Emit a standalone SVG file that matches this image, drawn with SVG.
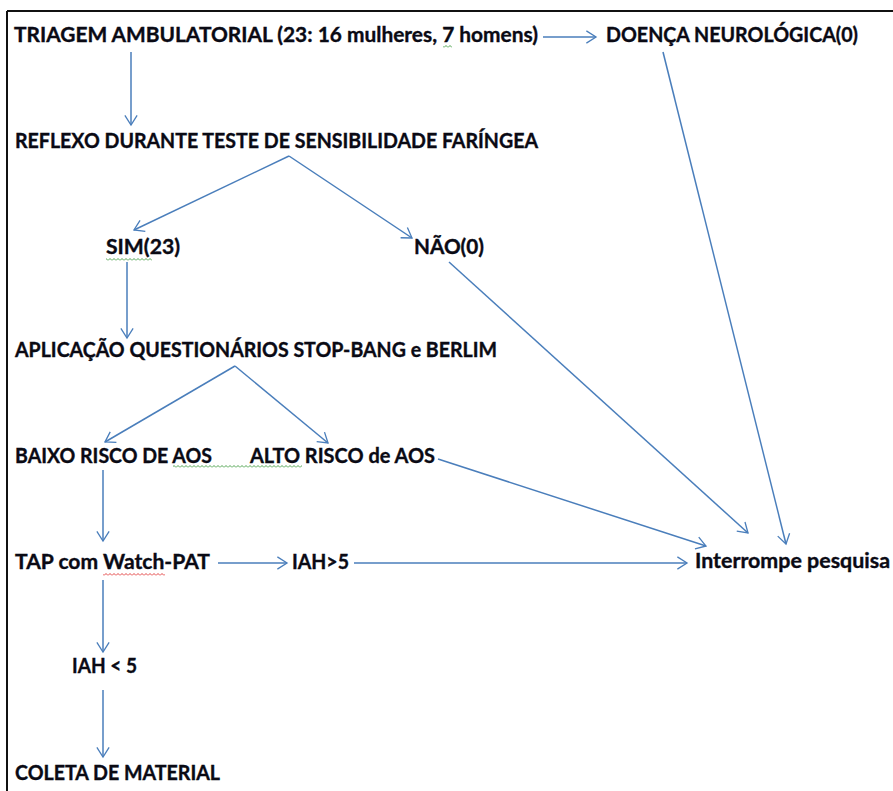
<svg xmlns="http://www.w3.org/2000/svg" width="893" height="791" viewBox="0 0 893 791">
<defs>
<style>
.t{font-family:Lato,"Liberation Sans",sans-serif;font-weight:bold;font-size:20px;fill:#0a0a14;stroke:#0a0a14;stroke-width:0.35}
.c{stroke:#4a7ebb;stroke-width:1.5;fill:none}
</style>
<marker id="ah" markerUnits="userSpaceOnUse" orient="auto" refX="0" refY="0" markerWidth="14" markerHeight="14" viewBox="-12 -8 14 16" overflow="visible">
<path d="M-11,-7 L0,0 L-11,7" fill="none" stroke="#4a7ebb" stroke-width="1.5"/>
</marker>
<pattern id="wg" patternUnits="userSpaceOnUse" x="0" y="0" width="4" height="3">
<path d="M0,2.5 L2,0.5 L4,2.5" fill="none" stroke="#3c9a3c" stroke-width="0.9"/>
</pattern>
<pattern id="wr" patternUnits="userSpaceOnUse" x="0" y="0" width="4" height="3">
<path d="M0,2.5 L2,0.5 L4,2.5" fill="none" stroke="#e03030" stroke-width="0.9"/>
</pattern>
</defs>
<rect width="893" height="791" fill="#fff"/>
<path d="M7,11 H893 M7,11 V791" stroke="#111" stroke-width="2" fill="none"/>
<g id="connectors">
<line class="c" x1="543" y1="37" x2="596" y2="37" marker-end="url(#ah)"/>
<line class="c" x1="131" y1="52" x2="131" y2="125" marker-end="url(#ah)"/>
<line class="c" x1="289" y1="156" x2="134" y2="230" marker-end="url(#ah)"/>
<line class="c" x1="289" y1="156" x2="412" y2="238" marker-end="url(#ah)"/>
<line class="c" x1="127" y1="262" x2="127" y2="338" marker-end="url(#ah)"/>
<line class="c" x1="449" y1="262" x2="748" y2="533" marker-end="url(#ah)"/>
<line class="c" x1="235" y1="366" x2="105" y2="442" marker-end="url(#ah)"/>
<line class="c" x1="235" y1="366" x2="328" y2="443" marker-end="url(#ah)"/>
<line class="c" x1="438" y1="459" x2="706" y2="546" marker-end="url(#ah)"/>
<line class="c" x1="103" y1="470" x2="103" y2="541" marker-end="url(#ah)"/>
<line class="c" x1="218" y1="563" x2="287" y2="563" marker-end="url(#ah)"/>
<line class="c" x1="354" y1="563" x2="687" y2="563" marker-end="url(#ah)"/>
<line class="c" x1="103" y1="580" x2="103" y2="652" marker-end="url(#ah)"/>
<line class="c" x1="103" y1="690" x2="103" y2="757" marker-end="url(#ah)"/>
<line class="c" x1="663" y1="52" x2="786" y2="544" marker-end="url(#ah)"/>
</g>
<g id="triagem"><text class="t" x="14" y="42" textLength="524" lengthAdjust="spacingAndGlyphs">TRIAGEM AMBULATORIAL (23: 16 mulheres, 7 homens)</text><rect x="443" y="45" width="9" height="3" fill="url(#wg)"/></g>
<g id="doenca"><text class="t" x="606" y="42" textLength="252" lengthAdjust="spacingAndGlyphs">DOENÇA NEUROLÓGICA(0)</text></g>
<g id="reflexo"><text class="t" x="15" y="148" textLength="523" lengthAdjust="spacingAndGlyphs">REFLEXO DURANTE TESTE DE SENSIBILIDADE FARÍNGEA</text></g>
<g id="sim"><text class="t" x="106" y="254" textLength="74" lengthAdjust="spacingAndGlyphs">SIM(23)</text><rect x="106" y="258" width="46" height="3" fill="url(#wg)"/></g>
<g id="nao"><text class="t" x="414" y="254" textLength="70" lengthAdjust="spacingAndGlyphs">NÃO(0)</text></g>
<g id="aplicacao"><text class="t" x="15" y="357" textLength="482" lengthAdjust="spacingAndGlyphs">APLICAÇÃO QUESTIONÁRIOS STOP-BANG e BERLIM</text></g>
<g id="baixo"><text class="t" x="15" y="463" textLength="197" lengthAdjust="spacingAndGlyphs">BAIXO RISCO DE AOS</text><rect x="173" y="465" width="129" height="3" fill="url(#wg)"/></g>
<g id="alto"><text class="t" x="250" y="463" textLength="185" lengthAdjust="spacingAndGlyphs">ALTO RISCO de AOS</text></g>
<g id="tap"><text class="t" x="15" y="569" textLength="195" lengthAdjust="spacingAndGlyphs">TAP com Watch-PAT</text><rect x="103" y="573" width="62" height="3" fill="url(#wr)"/></g>
<g id="iah_maior"><text class="t" x="292" y="569" textLength="57" lengthAdjust="spacingAndGlyphs">IAH&gt;5</text></g>
<g id="interrompe"><text class="t" x="695" y="568" textLength="195" lengthAdjust="spacingAndGlyphs">Interrompe pesquisa</text></g>
<g id="iah_menor"><text class="t" x="72" y="673" textLength="65" lengthAdjust="spacingAndGlyphs">IAH &lt; 5</text></g>
<g id="coleta"><text class="t" x="15" y="780" textLength="205" lengthAdjust="spacingAndGlyphs">COLETA DE MATERIAL</text></g>
</svg>
